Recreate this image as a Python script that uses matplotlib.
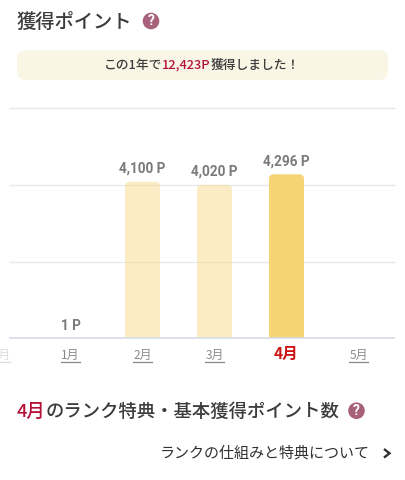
import matplotlib
matplotlib.use('Agg')
import matplotlib.pyplot as plt
from matplotlib.patches import FancyBboxPatch, Circle
from matplotlib.lines import Line2D

plt.rcParams['font.family'] = ['Noto Sans CJK JP', 'DejaVu Sans']

# ---------- data ----------
months = ['12月', '1月', '2月', '3月', '4月', '5月']
points = [0, 1, 4100, 4020, 4296, 0]
value_labels = ['', '1 P', '4,100 P', '4,020 P', '4,296 P', '']
grid_values = [2000, 4010, 6040]
current_month = '4月'

W, H = 405, 480
DARK = '#3c3c3c'
RED = '#b5123a'
ICON = '#a8617a'

fig = plt.figure(figsize=(W / 100, H / 100), dpi=100, facecolor='white')

# full figure overlay in pixel coords (y down)
bg = fig.add_axes([0, 0, 1, 1])
bg.set_xlim(0, W)
bg.set_ylim(H, 0)
bg.axis('off')

# ---------- chart ----------
left, right, top, bottom = 10, 394, 107.7, 338.4
ymax = 6040
ax = fig.add_axes([left / W, 1 - bottom / H, (right - left) / W, (bottom - top) / H])
ax.patch.set_alpha(0)
x0 = 1 + (left - 70.5) / 72
x1 = 1 + (right - 70.5) / 72
ax.set_xlim(x0, x1)
ax.set_ylim(0, ymax)
for s in ax.spines.values():
    s.set_visible(False)
ax.set_xticks([])
ax.set_yticks([])
for g in grid_values:
    ax.axhline(g, color='#e8e8e8', linewidth=1, zorder=1, clip_on=False)
ax.axhline(0, color='#d5dce8', linewidth=1.2, zorder=4, clip_on=False)

bar_w = 35 / 72
# value units per x unit, keeps the corners round
aspect = (ymax / (bottom - top)) / (1 / 72)
for i, (m, v) in enumerate(zip(months, points)):
    if v > 1:
        cur = m == current_month
        bar = FancyBboxPatch((i - bar_w / 2, -400), bar_w, v + 400,
                             boxstyle='round,pad=0,rounding_size=0.065',
                             mutation_aspect=aspect,
                             facecolor='#f6d476', alpha=1 if cur else 0.42,
                             edgecolor='none', zorder=3)
        ax.add_patch(bar)
    if value_labels[i]:
        ax.annotate(value_labels[i], (i, v), xytext=(0, 4.2), textcoords='offset points',
                    ha='center', va='bottom', color='#7a7a7a', fontsize=9.8,
                    fontweight='bold', family=['Roboto', 'DejaVu Sans'], zorder=5)
    # month labels
    cx = 70.5 + 72 * (i - 1)
    if m == current_month:
        bg.text(cx - 1, 354, m, ha='center', va='center', fontsize=11.2, fontweight='bold', color='#cc1414')
    else:
        col = '#dcdcdc' if i == 0 else '#8a8a8a'
        bg.text(cx, 355, m, ha='center', va='center', fontsize=8.6, color=col)
        half = 11.5 if i == 0 else 9.5
        bg.add_line(Line2D([cx - half, cx + half], [361.5, 361.5], color=col, linewidth=0.9))

# ---------- header ----------
def chain(x, y, parts, size, weight='normal', center=False):
    # coloured pieces placed one after the other
    r = fig.canvas.get_renderer()
    tx = []
    for s, c in parts:
        t = bg.text(x, y, s, ha='left', va='center', fontsize=size, color=c, fontweight=weight)
        w = t.get_window_extent(r).width
        tx.append((t, w))
        x += w
    if center:
        total = sum(w for _, w in tx)
        for t, _ in tx:
            t.set_x(t.get_position()[0] - total / 2)


def help_icon(cx, cy):
    bg.add_patch(Circle((cx, cy), 8.3, facecolor=ICON, edgecolor='none'))
    bg.text(cx, cy, '?', ha='center', va='center', color='white', fontsize=10,
            fontweight='bold', family=['Roboto', 'DejaVu Sans'])


chain(17, 22, [('獲得ポイント', DARK)], 13.9, weight='medium')
help_icon(151, 21)

bg.add_patch(FancyBboxPatch((17, 50), 371, 30, boxstyle='round,pad=0,rounding_size=9',
                            facecolor='#faf6e6', edgecolor='none'))
chain(202, 65, [('この1年で', DARK), ('12,423P', RED), ('獲得しました！', DARK)], 9.2,
      weight='medium', center=True)

# ---------- footer ----------
chain(17, 411.5, [('4月', RED), ('のランク特典・基本獲得ポイント数', DARK)], 13.2, weight='medium')
help_icon(356.5, 410.7)

t = bg.text(370, 453, 'ランクの仕組みと特典について', ha='right', va='center', fontsize=10.8, color='#303030')
bg.plot([384, 389.5, 384], [449, 453.3, 457.6], color='#303030', linewidth=1.7,
        solid_joinstyle='miter', solid_capstyle='butt')

fig.savefig('out.png', dpi=100, facecolor='white')
